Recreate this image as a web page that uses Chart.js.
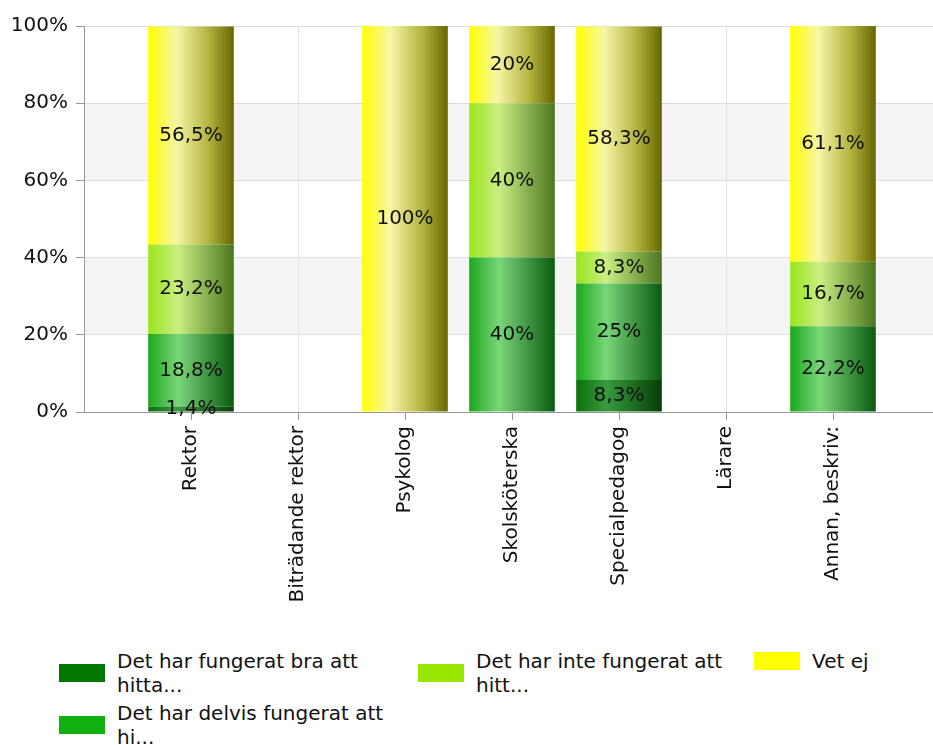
<!DOCTYPE html>
<html>
<head>
<meta charset="utf-8">
<script src="https://cdn.jsdelivr.net/npm/chart.js@4/dist/chart.umd.min.js"></script>
<style>
    html, body { margin: 0; padding: 0; background: #fff; overflow: hidden; }
    #wrap { position: relative; width: 933px; height: 745px; overflow: hidden; }
    #box { position: absolute; left: 0; top: 0; width: 940px; height: 620px; }
    #legend {
        position: absolute; left: 59px; top: 649px;
        display: grid; grid-template-rows: auto auto;
        grid-template-columns: 359px 336px auto; row-gap: 4px;
        font-family: "DejaVu Sans", sans-serif; font-size: 20px; line-height: 24px; color: #111;
    }
    .item { display: flex; align-items: center; }
    .item:nth-child(1) { grid-column: 1; grid-row: 1; }
    .item:nth-child(2) { grid-column: 1; grid-row: 2; }
    .item:nth-child(3) { grid-column: 2; grid-row: 1; }
    .item:nth-child(4) { grid-column: 3; grid-row: 1; align-self: start; }
    .swatch { width: 46px; height: 18px; margin-right: 12px; flex: none; }
    .txt { width: 272px; }
    .item:nth-child(4) .txt { width: auto; }
</style>
</head>
<body>
<div id="wrap">
    <div id="box"><canvas id="chart"></canvas></div>
    <div id="legend"></div>
</div>
<script>
// Data
const categories = ['Rektor', 'Biträdande rektor', 'Psykolog', 'Skolsköterska', 'Specialpedagog', 'Lärare', 'Annan, beskriv:'];
const seriesNames = [
    'Det har fungerat bra att hitta...',
    'Det har delvis fungerat att hi...',
    'Det har inte fungerat att hitt...',
    'Vet ej'
];
const braValues    = [1.4, 0, 0, 0, 8.3, 0, 0];
const delvisValues = [18.8, 0, 0, 40, 25, 0, 22.2];
const inteValues   = [23.2, 0, 0, 40, 8.3, 0, 16.7];
const vetEjValues  = [56.5, 0, 100, 20, 58.3, 0, 61.1];
const yTicks = [0, 20, 40, 60, 80, 100];

// Styling
const legendColors = ['#007800', '#11b011', '#99e600', '#ffff00'];
const barStops = [
    [[0, '#0b700b'], [0.35, '#3a9a40'], [1, '#053f05']],
    [[0, '#1aa81a'], [0.35, '#7ad67a'], [1, '#0a5a10']],
    [[0, '#99e619'], [0.35, '#caee84'], [1, '#4a761e']],
    [[0, '#ffff00'], [0.33, '#f6f6a6'], [0.7, '#b4b440'], [1, '#666600']]
];
const FONT = '"DejaVu Sans", sans-serif';

// pad category axis with an empty slot on each side so bars sit on the grid lines
const labels = [''].concat(categories, ['']);
const pad = arr => [null].concat(arr.map(v => v || null), [null]);
const seriesValues = [braValues, delvisValues, inteValues, vetEjValues];

function barGradient(ctx, s) {
    const chart = ctx.chart;
    const x = chart.scales && chart.scales.x;
    if (!x || !chart.chartArea) return legendColors[s];
    const step = x.getPixelForValue(1) - x.getPixelForValue(0);
    const cx = x.getPixelForValue(ctx.dataIndex);
    const g = chart.ctx.createLinearGradient(cx - step * 0.4, 0, cx + step * 0.4, 0);
    barStops[s].forEach(st => g.addColorStop(st[0], st[1]));
    return g;
}

const datasets = seriesNames.map((name, s) => ({
    label: name,
    data: pad(seriesValues[s]),
    backgroundColor: ctx => barGradient(ctx, s),
    borderWidth: 0,
    categoryPercentage: 1,
    barPercentage: 0.8
}));

const bands = {
    id: 'bands',
    beforeDraw(chart) {
        const { ctx, chartArea: a, scales: { y } } = chart;
        ctx.save();
        ctx.fillStyle = '#f4f4f4';
        [[60, 80], [20, 40]].forEach(([lo, hi]) => {
            const top = y.getPixelForValue(hi), bot = y.getPixelForValue(lo);
            ctx.fillRect(a.left, top, a.right - a.left, bot - top);
        });
        ctx.restore();
    }
};

const valueLabels = {
    id: 'valueLabels',
    afterDatasetsDraw(chart) {
        const ctx = chart.ctx;
        ctx.save();
        ctx.font = '20px ' + FONT;
        ctx.fillStyle = '#111';
        ctx.textAlign = 'center';
        ctx.textBaseline = 'middle';
        chart.data.datasets.forEach((ds, i) => {
            chart.getDatasetMeta(i).data.forEach((bar, j) => {
                const v = ds.data[j];
                if (!v) return;
                const txt = String(v).replace('.', ',') + '%';
                ctx.fillText(txt, bar.x, (bar.y + bar.base) / 2);
            });
        });
        ctx.restore();
    }
};

new Chart(document.getElementById('chart'), {
    type: 'bar',
    data: { labels, datasets },
    options: {
        responsive: true,
        maintainAspectRatio: false,
        animation: false,
        layout: { padding: { top: 26, right: 0, bottom: 0, left: 0 } },
        plugins: { legend: { display: false }, tooltip: { enabled: false } },
        scales: {
            x: {
                stacked: true,
                offset: false,
                afterFit: s => { s.height = 208; s.paddingLeft = 0; s.paddingRight = 0; },
                grid: {
                    offset: false,
                    color: '#e2e2e2',
                    tickLength: 8,
                    tickColor: c => (c.index === 0 || c.index === labels.length - 1) ? 'rgba(0,0,0,0)' : '#999'
                },
                border: { color: '#999' },
                ticks: {
                    autoSkip: false, minRotation: 90, maxRotation: 90, padding: 6,
                    color: '#111', font: { family: FONT, size: 20 }
                }
            },
            y: {
                stacked: true,
                min: 0, max: 100,
                afterFit: s => { s.width = 84; },
                afterBuildTicks: s => { s.ticks = yTicks.map(v => ({ value: v })); },
                grid: { color: '#dcdcdc', tickLength: 8, tickColor: '#999' },
                border: { color: '#999' },
                ticks: {
                    padding: 8, color: '#111', font: { family: FONT, size: 20 },
                    callback: v => v + '%'
                }
            }
        }
    },
    plugins: [bands, valueLabels]
});

// HTML legend (text wraps like the original)
document.getElementById('legend').innerHTML = seriesNames.map((name, s) => `
    <div class="item">
        <span class="swatch" style="background:${legendColors[s]}"></span>
        <span class="txt">${name}</span>
    </div>`).join('');
</script>
</body>
</html>
